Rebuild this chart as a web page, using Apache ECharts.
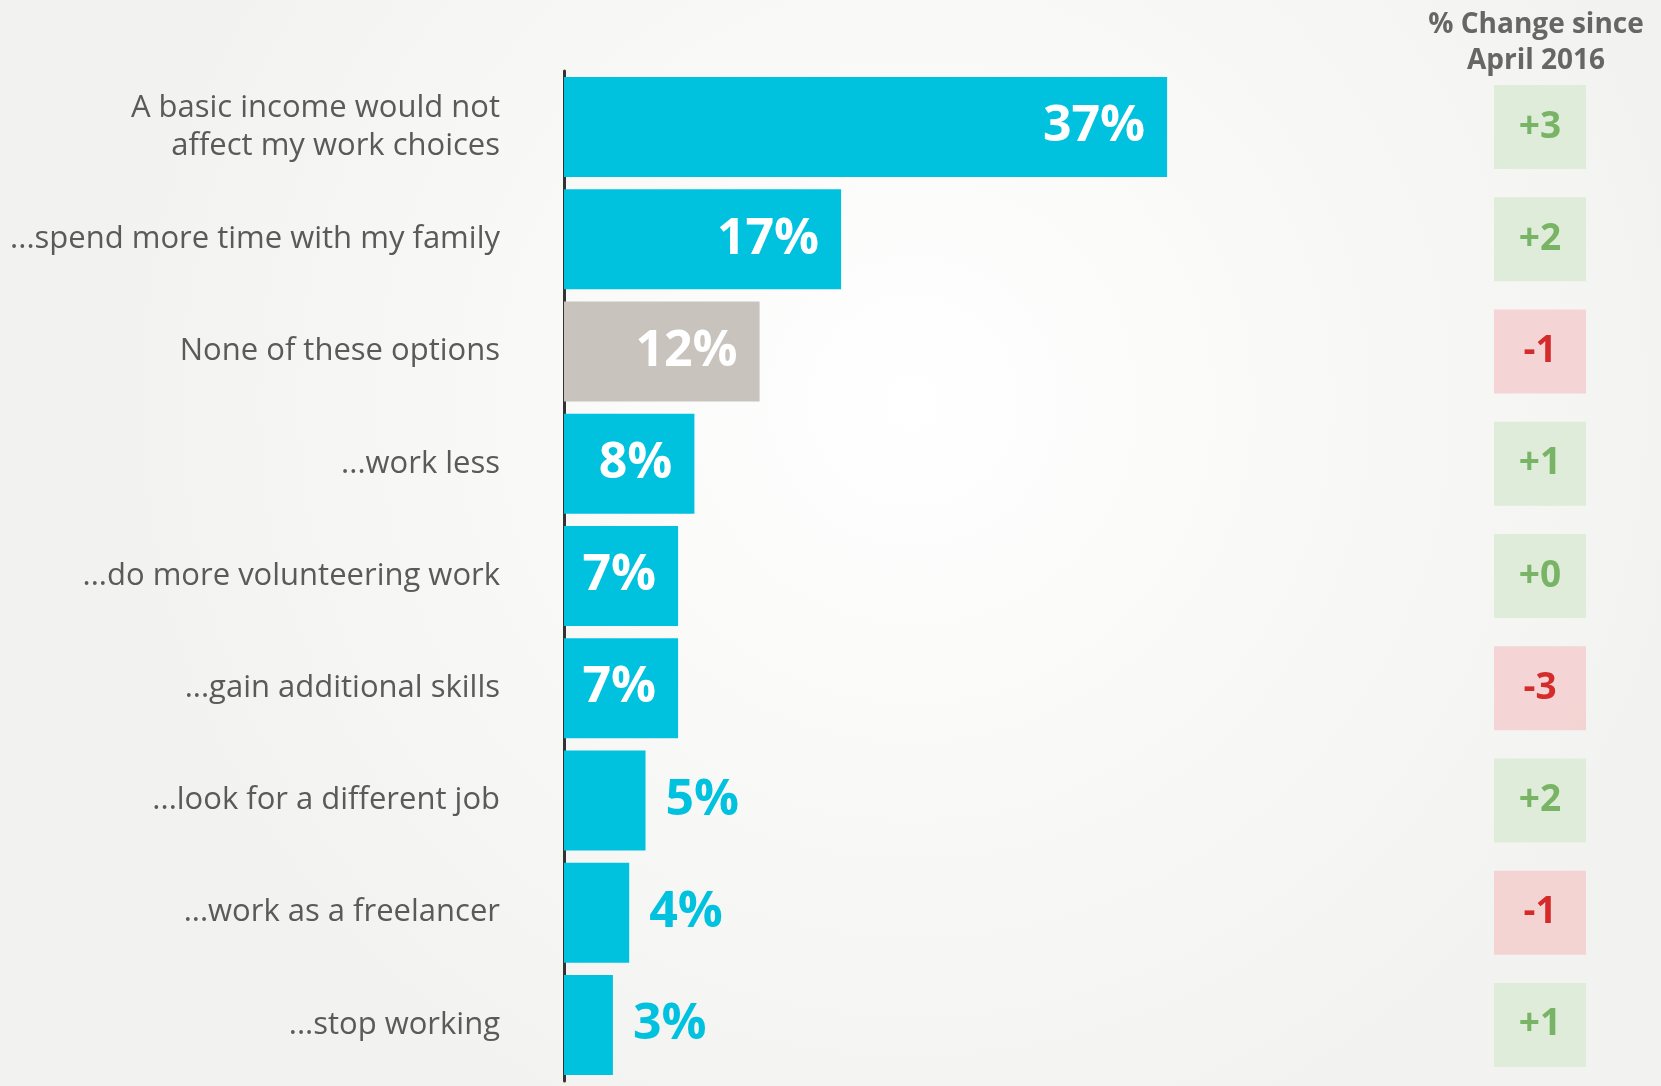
<!DOCTYPE html>
<html>
<head>
<meta charset="utf-8">
<style>
  html, body { margin: 0; padding: 0; }
  #chart { width: 1661px; height: 1086px; }
</style>
<script src="https://cdn.jsdelivr.net/npm/echarts@6/dist/echarts.min.js"></script>
</head>
<body>
<div id="chart"></div>
<script>
// Survey answers: how a basic income would change respondents' work
const categories = [
  'A basic income would not\naffect my work choices',
  '...spend more time with my family',
  'None of these options',
  '...work less',
  '...do more volunteering work',
  '...gain additional skills',
  '...look for a different job',
  '...work as a freelancer',
  '...stop working'
];
const shares = [37, 17, 12, 8, 7, 7, 5, 4, 3];
const changeSinceApril2016 = [3, 2, -1, 1, 0, -3, 2, -1, 1];
const changeHeader = '% Change since\nApril 2016';

const CYAN = '#00c2de';
const NEUTRAL = '#c8c3bd';
const FONT = '"Open Sans", "DejaVu Sans", sans-serif';

const chart = echarts.init(document.getElementById('chart'));

// Bars: wide bars carry their label inside in white, short ones outside in cyan
const barData = shares.map((v, i) => {
  const inside = v >= 6;
  return {
    value: v,
    itemStyle: { color: categories[i] === 'None of these options' ? NEUTRAL : CYAN },
    label: {
      show: true,
      position: inside ? 'insideRight' : 'right',
      distance: inside ? 22 : 20,
      color: inside ? '#ffffff' : CYAN
    }
  };
});

// Change boxes: green for gains (and zero), red for losses
const changeData = changeSinceApril2016.map((v, i) => ({
  value: [0, i],
  itemStyle: { color: v >= 0 ? '#d9ead3' : '#f4cccc' },
  label: { color: v >= 0 ? '#5ea548' : '#cc0000' }
}));

chart.setOption({
  backgroundColor: {
    type: 'radial', x: 0.55, y: 0.37, r: 0.75,
    colorStops: [
      { offset: 0, color: '#ffffff' },
      { offset: 1, color: '#f2f2f0' }
    ]
  },
  animation: false,
  title: {
    text: changeHeader,
    left: 1531,
    top: 2,
    textAlign: 'center',
    textStyle: {
      fontFamily: FONT, fontWeight: 'bold', fontSize: 28,
      lineHeight: 36, color: '#666666', align: 'center'
    }
  },
  grid: [
    { left: 564, top: 71, width: 978, height: 1010 },
    { left: 1494, top: 71, width: 92, height: 1010 }
  ],
  xAxis: [
    { type: 'value', gridIndex: 0, min: 0, max: 60, show: false },
    { type: 'value', gridIndex: 1, min: -1, max: 1, show: false }
  ],
  yAxis: [
    {
      type: 'category', gridIndex: 0, data: categories, inverse: true,
      axisLine: { show: true, lineStyle: { color: '#333333', width: 3 } },
      axisTick: { show: false },
      axisLabel: {
        margin: 64, color: '#5a5a5a', fontFamily: FONT, fontSize: 31,
        lineHeight: 38, align: 'right',
        backgroundColor: 'rgba(0,0,0,0)', padding: [10, 0, 0, 0]
      }
    },
    {
      type: 'category', gridIndex: 1, data: categories, inverse: true, show: false
    }
  ],
  series: [
    {
      type: 'bar', xAxisIndex: 0, yAxisIndex: 0,
      barWidth: 100,
      data: barData,
      label: {
        show: true,
        fontFamily: FONT, fontWeight: 'bold', fontSize: 50,
        formatter: p => p.value + '%'
      }
    },
    {
      type: 'scatter', xAxisIndex: 1, yAxisIndex: 1,
      symbol: 'rect', symbolSize: [92, 84],
      data: changeData,
      label: {
        show: true, position: 'inside',
        fontFamily: FONT, fontWeight: 'bold', fontSize: 37,
        formatter: p => {
          const v = changeSinceApril2016[p.dataIndex];
          return (v >= 0 ? '+' : '') + v;
        }
      }
    }
  ]
});
</script>
</body>
</html>
